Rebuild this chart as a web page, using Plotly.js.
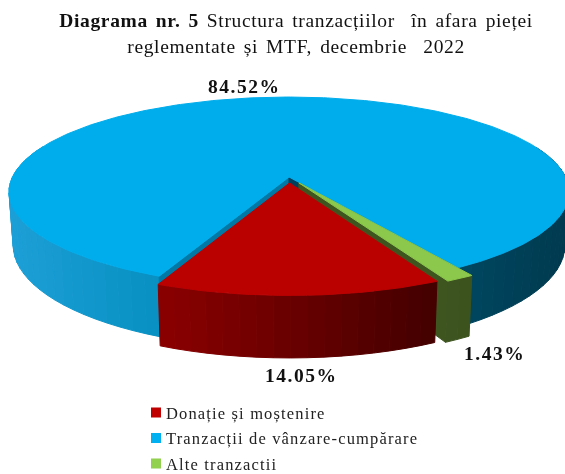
<!DOCTYPE html>
<html><head><meta charset="utf-8">
<script src="https://cdn.plot.ly/plotly-3.0.1.min.js"></script>
<style>
html,body{margin:0;padding:0;background:#fff}
#chart svg{filter:blur(0.45px)}
.gtitle{letter-spacing:.65px;word-spacing:2.5px}
.annotation-text{letter-spacing:1.5px}
.legendtext{letter-spacing:1.15px}
.legendsymbols{transform:translateX(10px)}
</style></head>
<body><div id="chart" style="width:565px;height:474px"></div>
<script>
const categories = ["Donație și moștenire", "Tranzacții de vânzare-cumpărare", "Alte tranzactii"];
const values = [14.05, 84.52, 1.43];
const valueLabels = ["14.05%", "84.52%", "1.43%"];
const legendColors = ["#c00000", "#00b0f0", "#92d050"];
const topColors = ["#bb0000", "#00adec", "#8cc84b"];
const explode = [0.064, 0, 0.072];
const startAngle = 153.1;

// perspective model of a tilted disc, in pixel coordinates
const cx = 289, cy = 177, R = 276.5, B = 92.6, K = 0.158, H = 52;
function proj(u, v, low) {
  const s = 1 / (1 + K * v);
  const q = low ? 0.985 : 1;
  return [cx + R * u * s * q, cy - B * v * s + (low ? H * s : 0)];
}
function pt(deg, r, ex, mid) {
  const a = deg * Math.PI / 180, m = mid * Math.PI / 180;
  return [r * Math.sin(a) + ex * Math.sin(m), r * Math.cos(a) + ex * Math.cos(m)];
}
function mix(stops, t) {
  let i = 0;
  while (i < stops.length - 2 && t > stops[i + 1][0]) i++;
  const [a, ca] = stops[i], [b, cb] = stops[i + 1];
  const f = Math.max(0, Math.min(1, (t - a) / (b - a)));
  return "rgb(" + ca.map((c, j) => Math.round(c + (cb[j] - c) * f)).join(",") + ")";
}
function poly(points, color) {
  const xs = points.map(p => p[0]), ys = points.map(p => p[1]);
  xs.push(xs[0]); ys.push(ys[0]);
  return {type: "scatter", mode: "lines", x: xs, y: ys, fill: "toself", fillcolor: color,
    line: {color: color, width: 1}, hoverinfo: "skip", showlegend: false};
}
const total = values.reduce((a, b) => a + b, 0);
let ang = startAngle;
const slices = values.map((v, i) => {
  const sweep = v / total * 360, o = {a0: ang, a1: ang + sweep, mid: ang + sweep / 2, ex: explode[i]};
  ang += sweep; return o;
});
function wall(sl, stops, step) {
  const out = [], n = Math.max(2, Math.ceil((sl.a1 - sl.a0) / step));
  for (let j = 0; j < n; j++) {
    const a = sl.a0 + (sl.a1 - sl.a0) * j / n, b = sl.a0 + (sl.a1 - sl.a0) * (j + 1) / n;
    const pa = pt(a, 1, sl.ex, sl.mid), pb = pt(b, 1, sl.ex, sl.mid);
    if (pa[1] > 0.3 && pb[1] > 0.3) continue;
    const A = proj(pa[0], pa[1], false), Bb = proj(pb[0], pb[1], false);
    const C = proj(pb[0], pb[1], true), D = proj(pa[0], pa[1], true);
    out.push(poly([A, Bb, C, D], mix(stops, (A[0] + Bb[0]) / 2)));
  }
  return out;
}
function topFace(sl, color) {
  const pts = [], c = pt(0, 0, sl.ex, sl.mid);
  pts.push(proj(c[0], c[1], false));
  const n = Math.ceil(sl.a1 - sl.a0);
  for (let j = 0; j <= n; j++) {
    const p = pt(sl.a0 + (sl.a1 - sl.a0) * j / n, 1, sl.ex, sl.mid);
    pts.push(proj(p[0], p[1], false));
  }
  return poly(pts, color);
}
function innerFace(sl, deg, color) {
  const c = pt(0, 0, sl.ex, sl.mid), p = pt(deg, 1, sl.ex, sl.mid);
  return poly([proj(c[0], c[1], false), proj(p[0], p[1], false), proj(p[0], p[1], true), proj(c[0], c[1], true)], color);
}
const blueStops = [[0, [30, 160, 215]], [150, [8, 145, 195]], [330, [0, 100, 135]], [470, [0, 70, 95]], [565, [0, 58, 80]]];
const redStops = [[155, [140, 0, 0]], [440, [66, 0, 0]]];
const greenStops = [[430, [66, 88, 34]], [470, [60, 82, 30]]];
const [red, blue, green] = slices;
const traces = [
  ...wall(blue, blueStops, 3),
  innerFace(blue, blue.a0, "#0079a6"),
  innerFace(blue, blue.a1, "#00405c"),
  topFace(blue, topColors[1]),
  ...wall(green, greenStops, 3),
  innerFace(green, green.a1, "#3f5520"),
  topFace(green, topColors[2]),
  ...wall(red, redStops, 3),
  topFace(red, topColors[0])
];
categories.forEach((name, i) => traces.push({
  type: "scatter", mode: "markers", x: [null], y: [null], name: name, legendgroup: "g" + i,
  marker: {symbol: "square", size: 10, color: legendColors[i]}, hoverinfo: "skip"
}));
const serif = "Liberation Serif, serif";
const label = (text, x, y) => ({text: "<b>" + text + "</b>", x: x, y: y, xref: "x", yref: "y", showarrow: false,
  font: {family: serif, size: 19.5, color: "#111"}, xanchor: "center", yanchor: "middle"});
const layout = {
  width: 565, height: 474, margin: {l: 0, r: 0, t: 0, b: 0, autoexpand: false}, paper_bgcolor: "#fff", plot_bgcolor: "#fff",
  xaxis: {range: [0, 565], visible: false, fixedrange: true},
  yaxis: {range: [474, 0], visible: false, fixedrange: true},
  title: {text: "<b>Diagrama nr. 5</b> Structura tranzacțiilor  în afara pieței<br>reglementate și MTF, decembrie  2022",
    x: 0.524, xanchor: "center", y: 0.942, yanchor: "middle", font: {family: serif, size: 19.5, color: "#111"}},
  annotations: [label(valueLabels[1], 244, 86), label(valueLabels[0], 301, 375), label(valueLabels[2], 494, 353)],
  legend: {x: 0.223, y: 0.166, xanchor: "left", yanchor: "top", bgcolor: "rgba(0,0,0,0)", traceorder: "grouped",
    tracegroupgap: 1, font: {family: serif, size: 16.5, color: "#222"}},
  showlegend: true
};
Plotly.newPlot("chart", traces, layout, {displayModeBar: false, staticPlot: true});
</script></body></html>
